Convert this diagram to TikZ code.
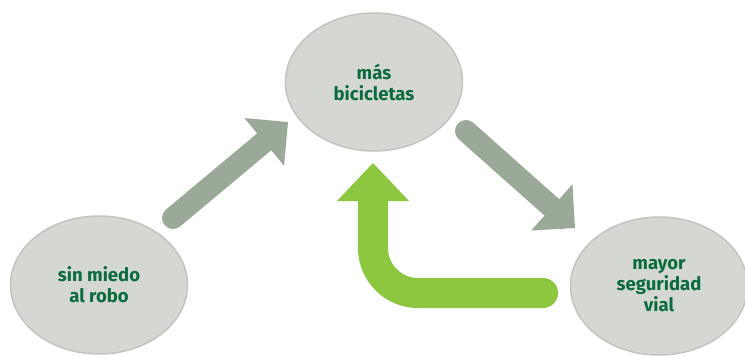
\documentclass[tikz,border=0pt]{standalone}
\usepackage{fontspec}
\setmainfont{Fira Sans}
\usetikzlibrary{shapes.geometric,arrows.meta}
\definecolor{bubblegray}{HTML}{D5D7D2}
\definecolor{rimgray}{HTML}{C2C5BF}
\definecolor{arrowgray}{HTML}{9BAA98}
\definecolor{loopgreen}{HTML}{8DC63F}
\definecolor{textgreen}{HTML}{0A6B3E}

\begin{document}
\begin{tikzpicture}[x=1pt,y=-1pt,
        bubble/.style={ellipse,fill=bubblegray,draw=rimgray,line width=1.5pt,inner sep=0pt,
            minimum width=177pt,minimum height=138pt,align=center,text=textgreen,
            font=\bfseries\fontsize{18.5}{21}\selectfont},
        grayarrow/.style={draw=arrowgray,line width=22pt,line cap=round,
            -{Triangle[length=31pt,width=62pt,line width=0pt]}},
        greenarrow/.style={draw=loopgreen,line width=30pt,line cap=round,rounded corners=45pt,
            -{Triangle[length=38pt,width=72pt,line width=0pt]}}]
    \useasboundingbox (0,0) rectangle (745,356);
    \clip (0,0) rectangle (745,356);

    \node[bubble] (bici) at (374,82) {más\\bicicletas};
    \node[bubble] (robo) at (99,285) {sin miedo\\al robo};
    \node[bubble] (vial) at (659,286) {mayor\\seguridad\\vial};

    \coordinate (robotail) at (173,218);
    \coordinate (bicitip) at (288,122);
    \coordinate (bicitail) at (466,131);
    \coordinate (vialtip) at (575,228);
    \coordinate (looptail) at (543,293);
    \coordinate (loopcorner) at (373,293);
    \coordinate (looptip) at (373,163);

    \draw[grayarrow] (robotail) -- (bicitip);
    \draw[grayarrow] (bicitail) -- (vialtip);
    \draw[greenarrow] (looptail) -- (loopcorner) -- (looptip);
\end{tikzpicture}
\end{document}
